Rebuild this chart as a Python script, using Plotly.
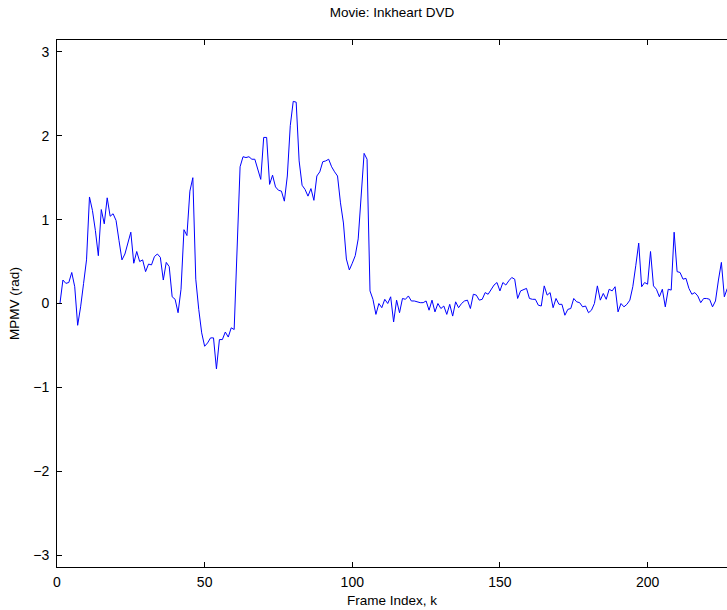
import math
import plotly.graph_objects as go

title_text = "Movie: Inkheart DVD"
x_label = "Frame Index, k"
y_label = "MPMV (rad)"

mpmv = [
    0.00, 0.28, 0.24, 0.25, 0.37, 0.20, -0.26, -0.04, 0.24, 0.52,
    1.27, 1.11, 0.87, 0.57, 1.12, 0.95, 1.26, 1.04, 1.07, 0.99,
    0.75, 0.52, 0.59, 0.72, 0.85, 0.48, 0.62, 0.50, 0.52, 0.38,
    0.47, 0.46, 0.56, 0.59, 0.55, 0.28, 0.49, 0.44, 0.08, 0.05,
    -0.11, 0.17, 0.88, 0.81, 1.34, 1.50, 0.29, -0.07, -0.35, -0.51,
    -0.47, -0.41, -0.41, -0.78, -0.43, -0.43, -0.34, -0.40, -0.29, -0.31,
    0.65, 1.63, 1.75, 1.74, 1.75, 1.72, 1.72, 1.60, 1.48, 1.98,
    1.98, 1.42, 1.53, 1.39, 1.35, 1.34, 1.22, 1.52, 2.12, 2.41,
    2.40, 1.70, 1.41, 1.36, 1.28, 1.37, 1.23, 1.52, 1.57, 1.69,
    1.70, 1.72, 1.63, 1.57, 1.52, 1.20, 0.96, 0.53, 0.40, 0.48,
    0.57, 0.77, 1.25, 1.79, 1.72, 0.15, 0.05, -0.13, 0.00, -0.05,
    0.05, 0.00, 0.08, -0.22, 0.04, -0.11, 0.06, 0.05, 0.09, 0.03,
    0.03, 0.02, 0.01, 0.01, 0.03, -0.08, 0.04, -0.10, 0.00, -0.06,
    -0.03, -0.13, -0.01, -0.15, 0.02, -0.05, 0.00, 0.03, 0.04, -0.06,
    0.11, 0.10, 0.04, 0.05, 0.13, 0.11, 0.16, 0.22, 0.25, 0.15,
    0.25, 0.22, 0.27, 0.31, 0.29, 0.06, 0.15, 0.17, 0.18, 0.06,
    0.05, 0.05, -0.02, -0.03, 0.21, 0.10, 0.13, -0.05, 0.06, -0.01,
    -0.01, -0.14, -0.07, -0.06, 0.06, 0.02, 0.01, -0.04, -0.03, -0.11,
    -0.08, 0.00, 0.21, 0.04, 0.12, 0.05, 0.17, 0.15, 0.20, -0.10,
    0.00, -0.04, -0.01, 0.04, 0.20, 0.45, 0.72, 0.20, 0.25, 0.23,
    0.62, 0.21, 0.17, 0.08, 0.17, -0.04, 0.17, 0.16, 0.85, 0.38,
    0.37, 0.29, 0.30, 0.18, 0.11, 0.13, 0.09, 0.01, 0.06, 0.06,
    0.05, -0.04, 0.03, 0.28, 0.49, 0.08, 0.18, 0.15,
]
frames = list(range(1, len(mpmv) + 1))

x_ticks = [0, 50, 100, 150, 200]
y_ticks = [-3, -2, -1, 0, 1, 2, 3]

fig = go.Figure()
fig.add_trace(go.Scatter(
    x=frames, y=mpmv, mode="lines",
    line=dict(color="#0000ff", width=1),
    showlegend=False, hoverinfo="skip",
))

font_family = "Liberation Sans, Arial, Helvetica, sans-serif"

fig.update_layout(
    width=727, height=610,
    margin=dict(l=57, r=0, t=40, b=43),
    paper_bgcolor="white", plot_bgcolor="white",
    font=dict(family=font_family, size=14, color="black"),
    title=dict(text=title_text, x=0.5, xref="paper", xanchor="center",
               y=1 - 12 / 610, yref="container", yanchor="middle",
               font=dict(size=13.5, color="black", family=font_family)),
)
fig.update_xaxes(
    range=[0, 226.9], tickvals=x_ticks, ticks="inside", ticklen=5,
    tickcolor="black", showline=True, linecolor="black", linewidth=1,
    mirror="ticks", showgrid=False, zeroline=False,
    tickfont=dict(size=14, family=font_family), ticklabelstandoff=2,
    title=dict(text=x_label, standoff=6, font=dict(size=13.5, family=font_family)),
)
fig.update_yaxes(
    range=[-math.pi, math.pi], tickvals=y_ticks, ticks="inside", ticklen=5,
    tickcolor="black", showline=True, linecolor="black", linewidth=1,
    mirror=False, showgrid=False, zeroline=False,
    tickfont=dict(size=14, family=font_family), ticklabelstandoff=4,
    title=dict(text=y_label, standoff=10, font=dict(size=13.5, family=font_family)),
)

fig.write_html("out.html")
